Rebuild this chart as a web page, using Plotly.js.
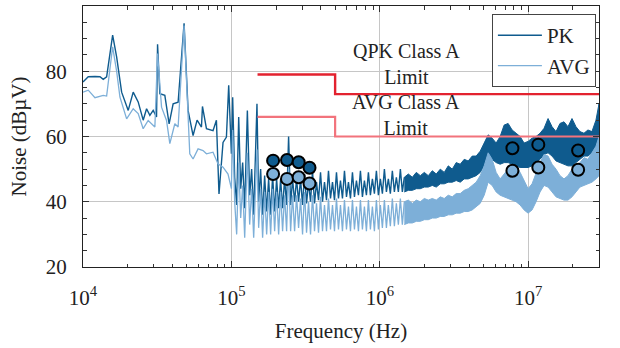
<!DOCTYPE html>
<html><head><meta charset="utf-8">
<script src="https://cdn.plot.ly/plotly-3.0.1.min.js"></script>
<style>
html,body{margin:0;padding:0;background:#fff}
#chart{width:620px;height:348px}
</style>
</head><body><div id="chart"></div>
<script>
// ---- data ----
// PK trace: resolved part of the spectrum (10 kHz .. 1.46 MHz)
const PK_LINE_F = [1.0e4,1.085e4,1.204e4,1.301e4,1.369e4,1.443e4,1.584e4,1.685e4,1.821e4,2.017e4,2.179e4,2.354e4,2.544e4,2.682e4,2.822e4,2.971e4,3.130e4,3.180e4,3.295e4,3.560e4,3.805e4,4.049e4,4.374e4,4.799e4,5.106e4,5.518e4,5.871e4,6.284e4,6.383e4,6.790e4,7.520e4,7.925e4,8.250e4,8.782e4,9.256e4,9.590e4,
  1.0e5,1.020e5,1.052e5,1.085e5,1.120e5,1.155e5,1.191e5,1.229e5,1.281e5,1.328e5,1.369e5,1.413e5,1.487e5,1.526e5,1.574e5,1.623e5,1.675e5,1.728e5,1.782e5,1.838e5,1.896e5,1.956e5,2.017e5,2.081e5,2.146e5,2.213e5,2.283e5,2.355e5,2.429e5,2.506e5,2.584e5,2.666e5,2.749e5,2.836e5,2.924e5,
  3.016e5,3.111e5,3.209e5,3.310e5,3.414e5,3.521e5,3.632e5,3.746e5,3.864e5,3.986e5,4.111e5,4.240e5,4.374e5,4.511e5,4.653e5,4.800e5,4.951e5,5.106e5,5.267e5,5.432e5,5.603e5,5.780e5,5.962e5,6.149e5,6.343e5,6.542e5,
  6.748e5,6.960e5,7.179e5,7.404e5,7.637e5,7.877e5,8.125e5,8.381e5,8.644e5,8.916e5,9.197e5,9.486e5,9.785e5,1.009e6,1.041e6,1.074e6,1.108e6,1.142e6,1.178e6,1.215e6,1.254e6,1.293e6,1.334e6,1.376e6,1.419e6,1.463e6];
const PK_LINE = [76.7,78.3,78.4,78.3,77.5,78.3,91.1,84.4,73.6,68,73.6,70.6,65,68.5,66.5,68,66,88.3,73.1,72.6,63.9,70,70.5,94.7,68,60.3,65,62.9,69.2,62.4,61.8,65,42.4,58.2,59.8,75.7,
  54.7,72,47.5,39,66,44,52,38,68,42,50,36,70,40,50,36,48,37,47,36,48,37,47,38,47,38,47,39,60,39,47,40,47,40,47,
  39,48.5,39.5,46,40,49.5,39.5,46,40.5,49,40,46,40.5,49.5,41,46,40.5,49,41,46.5,41,49.5,41.5,46,41,49,
  41.5,46.5,42,49.5,41.5,46.5,42,49,42,47,42.5,49.5,42,47,42.5,50,43,47,42.5,49.5,43,47.5,43,50,43,47.5];

// AVG trace: resolved part of the spectrum
const AVG_LINE_F = [1.0e4,1.085e4,1.204e4,1.301e4,1.369e4,1.443e4,1.584e4,1.685e4,1.774e4,1.968e4,2.179e4,2.354e4,2.544e4,2.749e4,3.050e4,3.180e4,3.383e4,3.655e4,3.847e4,4.157e4,4.374e4,4.799e4,5.243e4,5.518e4,5.962e4,6.442e4,6.790e4,7.520e4,8.124e4,8.782e4,9.488e4,
  1.0e5,1.020e5,1.052e5,1.085e5,1.120e5,1.155e5,1.191e5,1.229e5,1.281e5,1.328e5,1.369e5,1.413e5,1.487e5,1.526e5,1.574e5,1.623e5,1.675e5,1.728e5,1.782e5,1.838e5,1.896e5,1.956e5,2.017e5,2.081e5,2.146e5,2.213e5,2.283e5,2.355e5,2.429e5,2.506e5,2.584e5,2.666e5,2.749e5,2.836e5,2.924e5,
  3.016e5,3.111e5,3.209e5,3.310e5,3.414e5,3.521e5,3.632e5,3.746e5,3.864e5,3.986e5,4.111e5,4.240e5,4.374e5,4.511e5,4.653e5,4.800e5,4.951e5,5.106e5,5.267e5,5.432e5,5.603e5,5.780e5,5.962e5,6.149e5,6.343e5,6.542e5,
  6.748e5,6.960e5,7.179e5,7.404e5,7.637e5,7.877e5,8.125e5,8.381e5,8.644e5,8.916e5,9.197e5,9.486e5,9.785e5,1.009e6,1.041e6,1.074e6,1.108e6,1.142e6,1.178e6,1.215e6,1.254e6,1.293e6,1.334e6,1.376e6,1.419e6,1.463e6];
const AVG_LINE = [73.6,74.2,71.9,72.3,72.6,72.4,87.5,80,72.1,65.4,68.5,67,62.4,64.9,62.9,85.4,69,64.9,57.8,63.9,62.9,94,54.7,53.1,56.2,55.7,54.7,55.2,51.6,50.6,48.5,
  44,62,40,30,52,35,45,29,55,33,44,29,56,32,44,29,43,30,43,30,44,31,43,30,43,31,42,31,50,31,42,31,42,32,41,
  30,43,30.5,40,30,42,31,39.5,30.5,41.5,31,39,31,41,31.5,39,31,41,31.5,39,31,40.5,31.5,38.5,31,40.5,
  31.5,38.5,31,40.5,31.5,38.5,31,40.5,31.5,38.5,31,40.5,31.5,39,32,40.5,32,39,32.5,41,32.5,39.5,33,41,33,40];

// unresolved (dense) part: upper / lower envelopes on a shared frequency grid
const BAND_F = [1.463e6,1.557e6,1.657e6,1.762e6,1.875e6,1.995e6,2.122e6,2.258e6,2.402e6,2.556e6,2.719e6,2.893e6,3.078e6,3.274e6,
  3.483e6,3.706e6,3.943e6,4.195e6,4.463e6,4.748e6,5.051e6,5.374e6,5.717e6,6.082e6,6.471e6,6.884e6,7.324e6,7.792e6,8.290e6,8.819e6,9.383e6,9.982e6,1.062e7,1.130e7,
  1.202e7,1.279e7,1.361e7,1.448e7,1.540e7,1.638e7,1.743e7,1.854e7,1.973e7,2.099e7,2.233e7,2.376e7,2.527e7,2.689e7,2.861e7,3.0e7];
const PK_HI = [47.5,48.5,47.5,49,48,49,48,49.5,48.5,50,49,51,50,52,
  51.5,53,52.5,54,54,55.5,58,60.5,59.5,58,60,63.5,64,62,61,60,58,58.5,59.5,60,
  61,62.5,65.5,63,61.5,64,64.5,63,65.5,63,61.5,61,62,61.5,65,70];
const PK_LO = [43,43.5,43.5,44,44,44.5,44.5,45,44.5,45.5,45.5,46,46,46.5,
  46,47,47,47.5,48,49,51,53,53,52,51.5,52,52,51.5,51,50.5,50.5,50.5,51,52,
  53,54.5,55,54,52.5,52,51.5,51,51,52,53,54,54,55,57,58];
const AVG_HI = [40,40.5,39.5,40.5,40,41,40.5,41,40.5,41.5,41,42,41.5,42.5,
  42.5,43.5,44,45,46,48,51,55,53,49,47,48.5,50,51,51,49,46.5,44,45.5,49,
  52,54.5,54,51.5,50,48,47,48,50,51,52,53.5,53,55,57,60];
const AVG_LO = [33,33.5,33.5,34,34,34.5,34.5,35,35,35.5,35.5,36,36,36.5,
  36.5,37,37,37.5,38.5,39.5,42,46,45,43,42,41.5,41,40.5,40,39,37.5,36.5,37.5,40,
  43,45,44.5,43,41.5,41,40.5,40.5,41.5,43,44.5,45,45.5,46,47,48];

// measurement markers
const MARK_F = [1.91e5,2.37e5,2.84e5,3.36e5,7.83e6,1.17e7,2.17e7];
const PK_MARK = [52.6,52.8,52.1,50.4,56.4,57.5,55.7];
const AVG_MARK = [48.5,47.0,47.5,45.6,49.5,50.5,49.8];

// CISPR class A limits
const LIMIT_F = [1.5e5,5e5,5e5,3e7];
const QPK_LIMIT = [79,79,73,73];
const AVG_LIMIT = [66,66,60,60];

const X_TICKS = [1e4,1e5,1e6,1e7,3e7];
const X_TICKTEXT = ['10<sup>4</sup>','10<sup>5</sup>','10<sup>6</sup>','10<sup>7</sup>','3·10<sup>7</sup>'];

// ---- styling ----
const PK_COLOR = '#0f5b8e';
const AVG_COLOR = '#7dafd8';
const FONT = 'Liberation Serif, Times New Roman, serif';
const TXT = {family:FONT, size:21, color:'#222'};

function poly(f, hi, lo){
  return {x: f.concat(f.slice().reverse()), y: hi.concat(lo.slice().reverse())};
}
const pkBand = poly(BAND_F, PK_HI, PK_LO);
const avgBand = poly(BAND_F, AVG_HI, AVG_LO);

const traces = [
  {x: PK_LINE_F, y: PK_LINE, mode:'lines', name:'PK', line:{color:PK_COLOR, width:1.4}},
  {x: pkBand.x, y: pkBand.y, mode:'lines', fill:'toself', fillcolor:PK_COLOR, line:{color:PK_COLOR, width:1}, showlegend:false, hoverinfo:'skip'},
  {x: AVG_LINE_F, y: AVG_LINE, mode:'lines', name:'AVG', line:{color:AVG_COLOR, width:1.3}},
  {x: avgBand.x, y: avgBand.y, mode:'lines', fill:'toself', fillcolor:AVG_COLOR, line:{color:AVG_COLOR, width:1}, showlegend:false, hoverinfo:'skip'},
  {x: LIMIT_F, y: QPK_LIMIT, mode:'lines', line:{color:'#e3222f', width:2.4}, showlegend:false},
  {x: LIMIT_F, y: AVG_LIMIT, mode:'lines', line:{color:'#f2737c', width:2.2}, showlegend:false},
  {x: MARK_F, y: PK_MARK, mode:'markers', marker:{size:12, color:PK_COLOR, line:{color:'#000', width:2}}, showlegend:false},
  {x: MARK_F, y: AVG_MARK, mode:'markers', marker:{size:12, color:AVG_COLOR, line:{color:'#000', width:2}}, showlegend:false}
];

const axisCommon = {
  showline:true, linecolor:'#222', linewidth:1, mirror:'allticks',
  ticks:'inside', ticklen:6, tickcolor:'#333',
  showgrid:true, gridcolor:'#c6c6c6', gridwidth:1, zeroline:false,
  tickfont:TXT
};

const ANN_FONT = {family:FONT, size:20, color:'#222'};

const layout = {
  width:620, height:348,
  margin:{l:83, r:21, t:6, b:81},
  paper_bgcolor:'#fff', plot_bgcolor:'#fff',
  font:TXT,
  showlegend:true,
  legend:{x:0.994, xanchor:'right', y:0.969, yanchor:'top', bgcolor:'#fff', bordercolor:'#444', borderwidth:1,
          font:TXT, tracegroupgap:0, itemwidth:44},
  xaxis: Object.assign({}, axisCommon, {
    type:'log', range:[4, Math.log10(3e7)],
    tickmode:'array', tickvals:X_TICKS, ticktext:X_TICKTEXT,
    ticklabelstandoff:12,
    minor:{ticks:'inside', ticklen:3.5, dtick:'D1', tickcolor:'#333', showgrid:false},
    title:{text:'Frequency (Hz)', font:TXT, standoff:14}
  }),
  yaxis: Object.assign({}, axisCommon, {
    range:[20,100], tickmode:'linear', tick0:20, dtick:20,
    ticklabelstandoff:11,
    minor:{ticks:'inside', ticklen:3.5, dtick:5, tickcolor:'#333', showgrid:false},
    title:{text:'Noise (dBµV)', font:TXT, standoff:13}
  }),
  annotations:[
    {x:6.177, y:82.2, xref:'x', yref:'y', text:'QPK Class A<br>Limit', showarrow:false, font:ANN_FONT},
    {x:6.177, y:66.5, xref:'x', yref:'y', text:'AVG Class A<br>Limit', showarrow:false, font:ANN_FONT}
  ]
};

Plotly.newPlot('chart', traces, layout, {staticPlot:true, displayModeBar:false});
</script>
</body></html>
